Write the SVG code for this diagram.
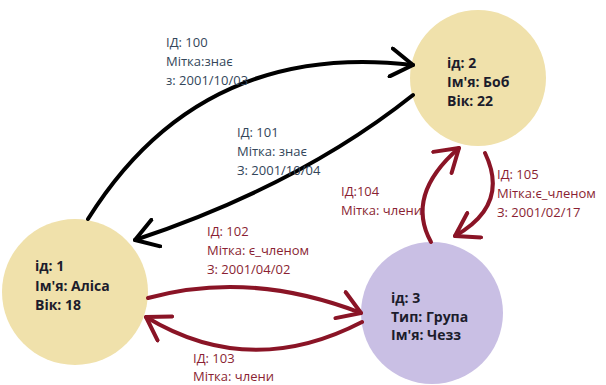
<svg xmlns="http://www.w3.org/2000/svg" width="606" height="385" viewBox="0 0 606 385">
<style>
.node{fill:#f0e1ab}
.grp{fill:#c9bfe4}
.nt{font-family:"Open Sans","Liberation Sans",sans-serif;font-size:14px;font-weight:bold;fill:#1c1c2c}
.bl{font-family:"Open Sans","Liberation Sans",sans-serif;font-size:13px;fill:#33465a}
.rl{font-family:"Open Sans","Liberation Sans",sans-serif;font-size:13px;fill:#8a1f33}
.eb{fill:none;stroke:#000;stroke-width:4;stroke-linecap:round}
.er{fill:none;stroke:#8a1426;stroke-width:4;stroke-linecap:round}
</style>
<defs>
<marker id="ab" markerWidth="8" markerHeight="8" refX="6" refY="4" orient="auto" markerUnits="strokeWidth">
<path d="M0.5,0.5 L6,4 L0.5,7.5" fill="none" stroke="#000" stroke-width="1" stroke-linecap="round" stroke-linejoin="round"/>
</marker>
<marker id="ar" markerWidth="8" markerHeight="8" refX="6" refY="4" orient="auto" markerUnits="strokeWidth">
<path d="M0.5,0.5 L6,4 L0.5,7.5" fill="none" stroke="#8a1426" stroke-width="1" stroke-linecap="round" stroke-linejoin="round"/>
</marker>
</defs>
<rect width="606" height="385" fill="#fff"/>
<g id="n2"><circle class="node" cx="478" cy="78" r="68"/>
<text class="nt" x="447" y="68">ід: 2</text><text class="nt" x="447" y="87">Ім'я: Боб</text><text class="nt" x="447" y="106">Вік: 22</text></g>
<g id="n1"><circle class="node" cx="75" cy="292" r="73"/>
<text class="nt" x="35" y="271">ід: 1</text><text class="nt" x="35" y="291">Ім'я: Аліса</text><text class="nt" x="35" y="310">Вік: 18</text></g>
<g id="n3"><circle class="grp" cx="432" cy="313" r="71"/>
<text class="nt" x="391" y="303">ід: 3</text><text class="nt" x="391" y="322">Тип: Група</text><text class="nt" x="391" y="340">Ім'я: Чезз</text></g>
<g id="edges">
<path class="eb" d="M88,219 Q200,40 413,65" marker-end="url(#ab)"/>
<path class="eb" d="M413,95 Q300,185 135,240" marker-end="url(#ab)"/>
<path class="er" d="M148,298 Q250,270 361,313" marker-end="url(#ar)"/>
<path class="er" d="M362,322 Q250,380 146,317" marker-end="url(#ar)"/>
<path class="er" d="M431,242 Q405,195 459,148" marker-end="url(#ar)"/>
<path class="er" d="M485,153 Q510,205 455,236" marker-end="url(#ar)"/>
</g>
<g id="labels">
<text class="bl" x="166" y="47">ІД: 100</text><text class="bl" x="166" y="66">Мітка:знає</text><text class="bl" x="166" y="85">з: 2001/10/03</text>
<text class="bl" x="237" y="137">ІД: 101</text><text class="bl" x="237" y="156">Мітка: знає</text><text class="bl" x="237" y="175">З: 2001/10/04</text>
<text class="rl" x="207" y="236">ІД: 102</text><text class="rl" x="207" y="255">Мітка: є_членом</text><text class="rl" x="207" y="274">З: 2001/04/02</text>
<text class="rl" x="341" y="196">ІД:104</text><text class="rl" x="341" y="215">Мітка: члени</text>
<text class="rl" x="497" y="179">ІД: 105</text><text class="rl" x="497" y="198">Мітка:є_членом</text><text class="rl" x="497" y="217">З: 2001/02/17</text>
<text class="rl" x="193" y="363">ІД: 103</text><text class="rl" x="193" y="381">Мітка: члени</text>
</g>
</svg>
